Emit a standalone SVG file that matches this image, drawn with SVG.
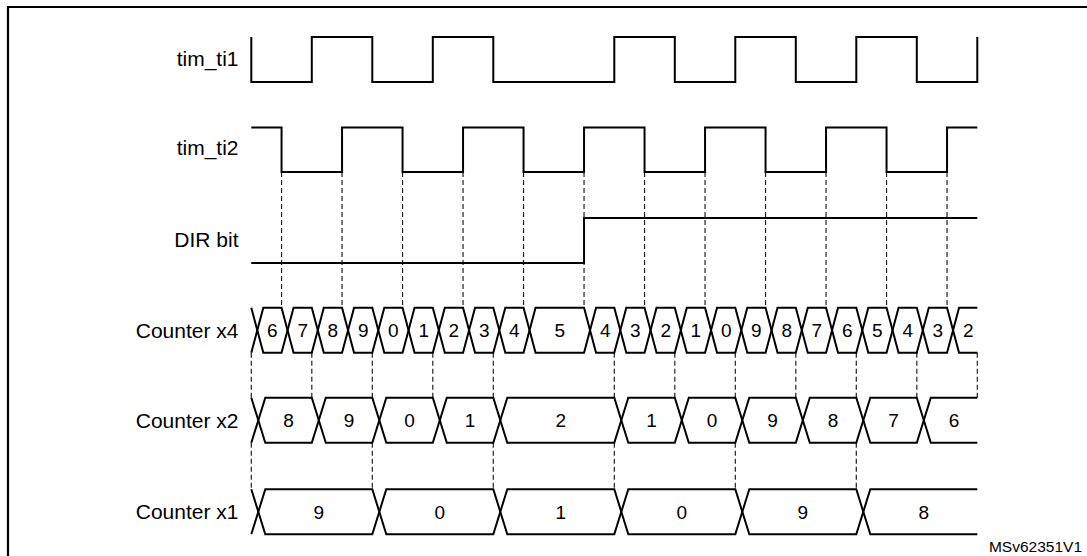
<svg xmlns="http://www.w3.org/2000/svg" xmlns:xlink="http://www.w3.org/1999/xlink" width="1087" height="556" viewBox="0 0 1087 556">
<style>
.w{fill:none;stroke:#000;stroke-width:2;stroke-linejoin:miter}
.d{fill:none;stroke:#222;stroke-width:1.2;stroke-dasharray:5 3}
.lb{font-family:"Liberation Sans",Arial,sans-serif;font-size:21px;fill:#000;text-anchor:end}
.n{font-family:"Liberation Sans",Arial,sans-serif;font-size:19px;fill:#000;text-anchor:middle}
.ref{font-family:"Liberation Sans",Arial,sans-serif;font-size:15.5px;fill:#000;text-anchor:end}
</style>
<defs>
<path id="c4" d="M6,0 L12,-22.5 H30.25 L36.25,0 L30.25,22.5 H12 Z"/>
<path id="c4L" d="M6,0 L12,-22.5 H60.5 L66.5,0 L60.5,22.5 H12 Z"/>
<path id="c2" d="M7,0 L14,-22.5 H60.5 L67.5,0 L60.5,22.5 H14 Z"/>
<path id="c1" d="M7,0 L14,-22.5 H121 L128,0 L121,22.5 H14 Z"/>
</defs>
<rect width="1087" height="556" fill="#fff"/>
<path d="M8,556 V7 H1087" fill="none" stroke="#000" stroke-width="2.2"/>

<g id="connectors">
<path class="d" d="M281.55,172V307.75 M342.05,172V307.75 M402.55,172V307.75 M463.05,172V307.75 M523.55,172V307.75 M584.05,172V307.75 M644.55,172V307.75 M705.05,172V307.75 M765.55,172V307.75 M826.05,172V307.75 M886.55,172V307.75 M947.05,172V307.75"/>
<path class="d" d="M251.3,352.75V397.8 M311.8,352.75V397.8 M372.3,352.75V397.8 M432.8,352.75V397.8 M493.3,352.75V397.8 M614.3,352.75V397.8 M674.8,352.75V397.8 M735.3,352.75V397.8 M795.8,352.75V397.8 M856.3,352.75V397.8 M916.8,352.75V397.8 M977.3,352.75V397.8"/>
<path class="d" d="M251.3,442.8V489.3 M372.3,442.8V489.3 M493.3,442.8V489.3 M614.3,442.8V489.3 M735.3,442.8V489.3 M856.3,442.8V489.3"/>
</g>

<g id="tim_ti1">
<text class="lb" x="238.5" y="66">tim_ti1</text>
<path class="w" d="M251.3,37 V82 H311.8 V37 H372.3 V82 H432.8 V37 H493.3 V82 H614.3 V37 H674.8 V82 H735.3 V37 H795.8 V82 H856.3 V37 H916.8 V82 H977.3 V37"/>
</g>

<g id="tim_ti2">
<text class="lb" x="238.5" y="155">tim_ti2</text>
<path class="w" d="M251.3,127.5 H281.55 V172 H342.05 V127.5 H402.55 V172 H463.05 V127.5 H523.55 V172 H584.05 V127.5 H644.55 V172 H705.05 V127.5 H765.55 V172 H826.05 V127.5 H886.55 V172 H947.05 V127.5 H977.3"/>
</g>

<g id="dir_bit">
<text class="lb" x="238.5" y="246.5">DIR bit</text>
<path class="w" d="M251.3,263 H584.05 V218 H977.3"/>
</g>

<g id="counter_x4">
<text class="lb" x="238.5" y="337.5">Counter x4</text>
<path class="w" d="M251.3,307.75 L257.3,330.25 L251.3,352.75"/>
<g class="w">
<use xlink:href="#c4" x="251.3" y="330.25"/>
<use xlink:href="#c4" x="281.55" y="330.25"/>
<use xlink:href="#c4" x="311.8" y="330.25"/>
<use xlink:href="#c4" x="342.05" y="330.25"/>
<use xlink:href="#c4" x="372.3" y="330.25"/>
<use xlink:href="#c4" x="402.55" y="330.25"/>
<use xlink:href="#c4" x="432.8" y="330.25"/>
<use xlink:href="#c4" x="463.05" y="330.25"/>
<use xlink:href="#c4" x="493.3" y="330.25"/>
<use xlink:href="#c4L" x="523.55" y="330.25"/>
<use xlink:href="#c4" x="584.05" y="330.25"/>
<use xlink:href="#c4" x="614.3" y="330.25"/>
<use xlink:href="#c4" x="644.55" y="330.25"/>
<use xlink:href="#c4" x="674.8" y="330.25"/>
<use xlink:href="#c4" x="705.05" y="330.25"/>
<use xlink:href="#c4" x="735.3" y="330.25"/>
<use xlink:href="#c4" x="765.55" y="330.25"/>
<use xlink:href="#c4" x="795.8" y="330.25"/>
<use xlink:href="#c4" x="826.05" y="330.25"/>
<use xlink:href="#c4" x="856.3" y="330.25"/>
<use xlink:href="#c4" x="886.55" y="330.25"/>
<use xlink:href="#c4" x="916.8" y="330.25"/>
</g>
<path class="w" d="M977.3,307.75 H959.05 L953.05,330.25 L959.05,352.75 H977.3"/>
<g class="n">
<text x="272.4" y="337">6</text>
<text x="302.7" y="337">7</text>
<text x="332.9" y="337">8</text>
<text x="363.2" y="337">9</text>
<text x="393.4" y="337">0</text>
<text x="423.7" y="337">1</text>
<text x="453.9" y="337">2</text>
<text x="484.2" y="337">3</text>
<text x="514.4" y="337">4</text>
<text x="559.8" y="337">5</text>
<text x="605.2" y="337">4</text>
<text x="635.4" y="337">3</text>
<text x="665.7" y="337">2</text>
<text x="695.9" y="337">1</text>
<text x="726.2" y="337">0</text>
<text x="756.4" y="337">9</text>
<text x="786.7" y="337">8</text>
<text x="816.9" y="337">7</text>
<text x="847.2" y="337">6</text>
<text x="877.4" y="337">5</text>
<text x="907.7" y="337">4</text>
<text x="937.9" y="337">3</text>
<text x="968.2" y="337">2</text>
</g>
</g>

<g id="counter_x2">
<text class="lb" x="238.5" y="428">Counter x2</text>
<path class="w" d="M251.3,397.8 L258.3,420.3 L251.3,442.8"/>
<g class="w">
<use xlink:href="#c2" x="251.3" y="420.3"/>
<use xlink:href="#c2" x="311.8" y="420.3"/>
<use xlink:href="#c2" x="372.3" y="420.3"/>
<use xlink:href="#c2" x="432.8" y="420.3"/>
<use xlink:href="#c1" x="493.3" y="420.3"/>
<use xlink:href="#c2" x="614.3" y="420.3"/>
<use xlink:href="#c2" x="674.8" y="420.3"/>
<use xlink:href="#c2" x="735.3" y="420.3"/>
<use xlink:href="#c2" x="795.8" y="420.3"/>
<use xlink:href="#c2" x="856.3" y="420.3"/>
</g>
<path class="w" d="M977.3,397.8 H930.8 L923.8,420.3 L930.8,442.8 H977.3"/>
<g class="n">
<text x="288.55" y="427.3">8</text>
<text x="349.05" y="427.3">9</text>
<text x="409.55" y="427.3">0</text>
<text x="470.05" y="427.3">1</text>
<text x="560.8" y="427.3">2</text>
<text x="651.55" y="427.3">1</text>
<text x="712.05" y="427.3">0</text>
<text x="772.55" y="427.3">9</text>
<text x="833.05" y="427.3">8</text>
<text x="893.55" y="427.3">7</text>
<text x="954.05" y="427.3">6</text>
</g>
</g>

<g id="counter_x1">
<text class="lb" x="238.5" y="518.5">Counter x1</text>
<path class="w" d="M251.3,489.3 L258.3,511.8 L251.3,534.3"/>
<g class="w">
<use xlink:href="#c1" x="251.3" y="511.8"/>
<use xlink:href="#c1" x="372.3" y="511.8"/>
<use xlink:href="#c1" x="493.3" y="511.8"/>
<use xlink:href="#c1" x="614.3" y="511.8"/>
<use xlink:href="#c1" x="735.3" y="511.8"/>
</g>
<path class="w" d="M977.3,489.3 H870.3 L863.3,511.8 L870.3,534.3 H977.3"/>
<g class="n">
<text x="318.8" y="518.6">9</text>
<text x="439.8" y="518.6">0</text>
<text x="560.8" y="518.6">1</text>
<text x="681.8" y="518.6">0</text>
<text x="802.8" y="518.6">9</text>
<text x="923.8" y="518.6">8</text>
</g>
</g>

<text class="ref" x="1082" y="552">MSv62351V1</text>
</svg>
